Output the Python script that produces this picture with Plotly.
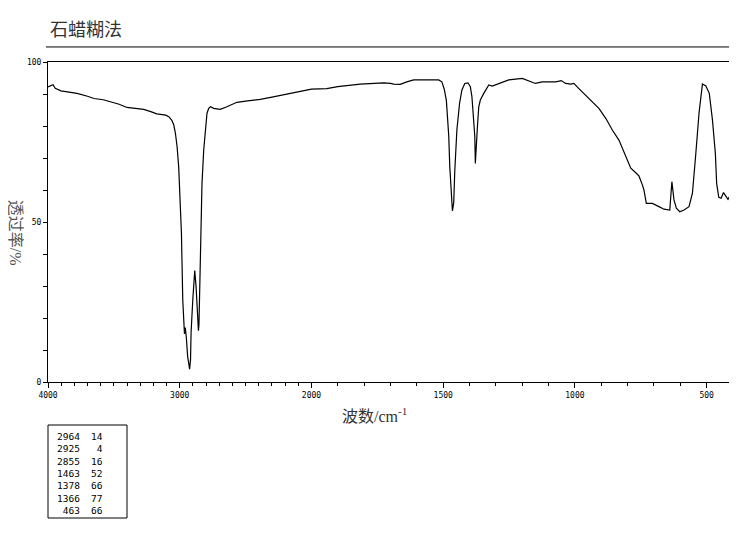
import plotly.graph_objects as go

# ---------------- data ----------------
wavenumber = [4000, 3962, 3945, 3902, 3840, 3780, 3700, 3651, 3580, 3523, 3460, 3401, 3340, 3273,
              3220, 3174, 3106, 3083, 3060, 3045, 3033, 3020, 3008, 2998, 2987, 2977, 2970, 2964,
              2958, 2950, 2940, 2930, 2925, 2918, 2914, 2901, 2886, 2876, 2866, 2858, 2854, 2850,
              2843, 2831, 2818, 2805, 2793, 2780, 2767, 2742, 2720, 2692, 2642, 2600, 2566, 2500,
              2389, 2300, 2200, 2136, 2050, 2000, 1942, 1900, 1815, 1760, 1726, 1700, 1688, 1663,
              1650, 1638, 1612, 1560, 1517, 1505, 1496, 1488, 1479, 1475, 1470, 1465, 1460, 1456,
              1448, 1438, 1429, 1418, 1406, 1397, 1391, 1384, 1380, 1378, 1374, 1370, 1365, 1359,
              1346, 1327, 1314, 1289, 1251, 1200, 1175, 1150, 1124, 1092, 1073, 1052, 1035, 1016,
              1004, 985, 947, 909, 883, 858, 833, 807, 788, 769, 757, 744, 738, 729, 706, 681, 662,
              640, 632, 624, 615, 602, 586, 567, 554, 541, 529, 516, 503, 490, 478, 467, 462, 454,
              445, 436, 428, 419, 410, 402, 400]
transmittance = [92.2, 92.9, 91.8, 91.0, 90.6, 90.2, 89.3, 88.6, 88.2, 87.6, 86.8, 85.8, 85.5, 85.2,
                 84.5, 83.8, 83.4, 82.9, 81.8, 80.3, 77.8, 73.5, 67.3, 58.0, 46.5, 25.6, 16.3, 15.0,
                 17.0, 14.0, 8.0, 4.5, 4.0, 7.0, 15.3, 25.6, 34.8, 29.8, 20.0, 16.0, 18.0, 25.6,
                 46.5, 62.0, 72.5, 79.8, 84.0, 85.5, 86.0, 85.5, 85.3, 85.2, 86.0, 86.8, 87.4, 87.8,
                 88.3, 89.0, 89.8, 90.2, 91.0, 91.5, 91.7, 92.3, 93.1, 93.4, 93.5, 93.3, 93.1, 93.0,
                 93.5, 93.8, 94.4, 94.3, 94.4, 93.8, 91.5, 88.0, 77.0, 67.3, 58.0, 53.5, 56.0, 66.0,
                 78.75, 87.0, 91.25, 93.3, 93.5, 92.3, 89.2, 81.9, 76.7, 68.3, 76.7, 79.8, 86.0, 88.1,
                 90.2, 92.8, 92.5, 93.3, 94.4, 94.9, 94.2, 93.3, 93.8, 93.75, 93.8, 94.2, 93.3, 93.1,
                 93.3, 91.7, 88.6, 85.5, 82.4, 78.75, 75.6, 70.4, 66.8, 65.4, 64.4, 61.6, 60.0, 55.8, 55.8, 54.8, 54.0,
                 53.75, 62.6, 56.9, 54.3, 53.2, 53.75, 54.8, 59.0, 71.5, 84.0, 93.1, 92.5, 90.2, 81.9, 71.5, 62.0, 57.7,
                 57.4, 59.2, 58.1, 57.1, 58.4, 58.75, 59.0]

peak_wn = [2964, 2925, 2855, 1463, 1378, 1366, 463]
peak_T = [14, 4, 16, 52, 66, 77, 66]

major_ticks = [4000, 3500, 3000, 2500, 2000, 1500, 1000, 500]
major_labels = ["4000", "", "3000", "", "2000", "1500", "1000", "500"]
minor_ticks = list(range(4000, 399, -100))
y_ticks = list(range(0, 101, 10))
y_labels = ["0", "", "", "", "", "50", "", "", "", "", "100"]


# Scale change at 2000 cm-1 (the region below 2000 is expanded 2x)
def u(wn):
    return 4000 - wn if wn >= 2000 else 2000 + 2 * (2000 - wn)


fig = go.Figure()
fig.add_trace(go.Scatter(x=[u(w) for w in wavenumber], y=transmittance, mode="lines",
                         line=dict(color="black", width=1.2), hoverinfo="skip"))

tick_font = dict(family="DejaVu Sans Mono", size=8, color="black")
# the page body has an 8px margin, so the figure is offset by 8px
fig.update_layout(
    width=729, height=531,
    margin=dict(l=40, r=4, t=54, b=157),
    plot_bgcolor="white", paper_bgcolor="white",
    showlegend=False,
    xaxis=dict(range=[0, u(400)], showgrid=False, zeroline=False, showline=True, mirror=True,
               linecolor="black", linewidth=1, ticks="outside", ticklen=5, tickcolor="black",
               tickvals=[u(w) for w in major_ticks], ticktext=major_labels, tickfont=tick_font,
               minor=dict(tickvals=[u(w) for w in minor_ticks], ticks="outside", ticklen=3,
                          tickcolor="black", showgrid=False)),
    yaxis=dict(range=[0, 100], showgrid=False, zeroline=False, showline=True, mirror=True,
               linecolor="black", linewidth=1, ticks="outside", ticklen=4, tickcolor="black",
               tickvals=y_ticks, ticktext=y_labels, tickfont=tick_font),
)

cjk = "Liberation Serif, Noto Sans CJK SC"
# title
fig.add_annotation(text="石蜡糊法", xref="paper", yref="paper", x=0, y=1.106,
                   xanchor="left", yanchor="middle", showarrow=False,
                   font=dict(family="Noto Sans CJK SC", size=18, color="#333333"))
fig.add_shape(type="line", xref="paper", yref="paper", x0=-0.003, x1=1, y0=1.047, y1=1.047,
              line=dict(color="black", width=1))
# axis titles
fig.add_annotation(text="波数/cm<sup>-1</sup>", xref="paper", yref="paper", x=0.476, y=-0.103,
                   xanchor="center", yanchor="middle", showarrow=False,
                   font=dict(family=cjk, size=16, color="#333333"))
fig.add_annotation(text="透过率/%", xref="paper", yref="paper", x=-0.048, y=0.466,
                   xanchor="center", yanchor="middle", showarrow=False, textangle=90,
                   font=dict(family=cjk, size=16, color="#555555"))

# peak table
fig.add_shape(type="rect", xref="paper", yref="paper", x0=0, x1=(127 - 48) / 685,
              y0=(382 - 518) / 320, y1=(382 - 425) / 320, line=dict(color="black", width=1))
tbl_font = dict(family="DejaVu Sans Mono", size=9.5, color="black")
fig.add_annotation(text="<br>".join(str(w) for w in peak_wn), xref="paper", yref="paper",
                   x=(82 - 48) / 685, y=(382 - 429) / 320, xanchor="right", yanchor="top",
                   align="right", showarrow=False, font=tbl_font)
fig.add_annotation(text="<br>".join(str(t) for t in peak_T), xref="paper", yref="paper",
                   x=(105 - 48) / 685, y=(382 - 429) / 320, xanchor="right", yanchor="top",
                   align="right", showarrow=False, font=tbl_font)

fig.write_html("out.html")
